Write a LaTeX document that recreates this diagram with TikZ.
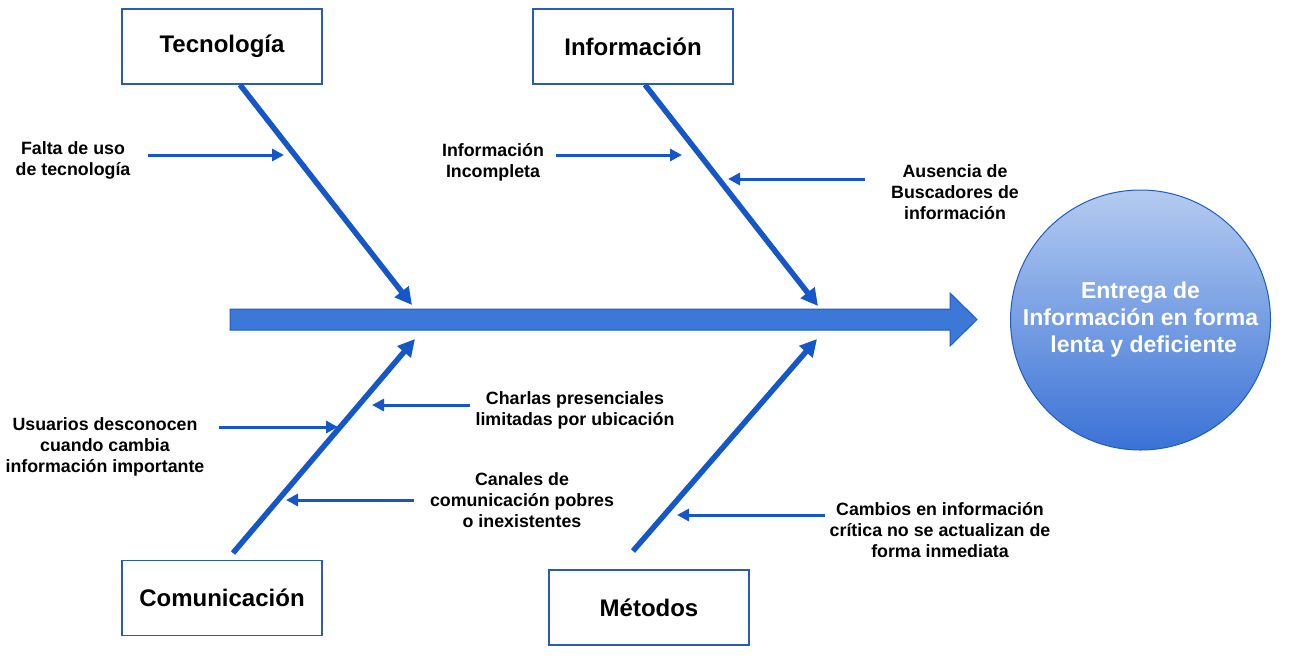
\documentclass[tikz,border=0pt]{standalone}
\usepackage{fontspec}
\setmainfont{Liberation Sans}
\usetikzlibrary{arrows.meta}
\definecolor{boxblue}{HTML}{2A5BB5}
\definecolor{linkblue}{HTML}{1556C8}
\definecolor{spinefill}{HTML}{3C78D8}
\definecolor{spinedraw}{HTML}{1F5BC4}
\definecolor{circtop}{HTML}{B4CBF0}
\definecolor{circbot}{HTML}{3A72D6}
\tikzset{
  catbox/.style={draw=boxblue, line width=1.5pt, minimum width=200, minimum height=75, font=\bfseries\fontsize{24}{28}\selectfont, inner sep=0pt},
  cause/.style={align=center, font=\bfseries\fontsize{17.8}{21}\selectfont, inner sep=0pt},
  bone/.style={draw=linkblue, line width=5.5pt, -{Triangle[length=17pt,width=17pt]}},
  twig/.style={draw=linkblue, line width=3pt, -{Triangle[length=12pt,width=12pt]}},
}
\begin{document}
\begin{tikzpicture}[x=1pt,y=-1pt]
\useasboundingbox (0,0) rectangle (1290,665);

% category boxes
\node[catbox] (tec) at (222,46.5) {Tecnología};
\node[catbox] (inf) at (633,46.5) {Información};
\node[catbox] (com) at (222,598) {Comunicación};
\node[catbox] (met) at (649,607.5) {Métodos};

% spine
\draw[fill=spinefill, draw=spinedraw, line width=1pt]
  (230,309) -- (950,309) -- (950,293) -- (977,319.5) -- (950,346) -- (950,330) -- (230,330) -- cycle;

% effect
\node[circle, draw=spinedraw, line width=1pt, minimum size=260, top color=circtop, bottom color=circbot,
      text=white, align=center, font=\bfseries\fontsize{23}{27}\selectfont, inner sep=0pt] (eff) at (1140.5,320)
  {Entrega de\\Información en forma\\\ lenta y deficiente};

% bone coordinates
\coordinate (tecend) at (412,305);
\coordinate (infend) at (818,306);
\coordinate (comend) at (415,339);
\coordinate (metend) at (817,339);
\coordinate (comstart) at (233,553);
\coordinate (metstart) at (633,551);

\draw[bone] ([xshift=18]tec.south) -- (tecend);
\draw[bone] ([xshift=12]inf.south) -- (infend);
\draw[bone] (comstart) -- (comend);
\draw[bone] (metstart) -- (metend);

% causes
\node[cause] (c1) at (73,160) {Falta de uso\\de tecnología};
\node[cause] (c2) at (493,162) {Información\\Incompleta};
\node[cause] (c3) at (955,192) {Ausencia de\\Buscadores de\\información};
\node[cause] (c4) at (575,410) {Charlas presenciales\\limitadas por ubicación};
\node[cause] (c5) at (105,447) {Usuarios desconocen\\cuando cambia\\información importante};
\node[cause] (c6) at (522,500) {Canales de\\comunicación pobres\\o inexistentes};
\node[cause] (c7) at (940,530) {Cambios en información\\crítica no se actualizan de\\forma inmediata};

% twig coordinates
\coordinate (a1s) at (148,155); \coordinate (a1e) at (284,155);
\coordinate (a2s) at (556,155); \coordinate (a2e) at (682,155);
\coordinate (a3s) at (865,179); \coordinate (a3e) at (728,179);
\coordinate (a4s) at (470,405); \coordinate (a4e) at (372,405);
\coordinate (a5s) at (219,427); \coordinate (a5e) at (338,427);
\coordinate (a6s) at (414,500); \coordinate (a6e) at (286,500);
\coordinate (a7s) at (825,515); \coordinate (a7e) at (677,515);

\draw[twig] (a1s) -- (a1e);
\draw[twig] (a2s) -- (a2e);
\draw[twig] (a3s) -- (a3e);
\draw[twig] (a4s) -- (a4e);
\draw[twig] (a5s) -- (a5e);
\draw[twig] (a6s) -- (a6e);
\draw[twig] (a7s) -- (a7e);
\end{tikzpicture}
\end{document}
